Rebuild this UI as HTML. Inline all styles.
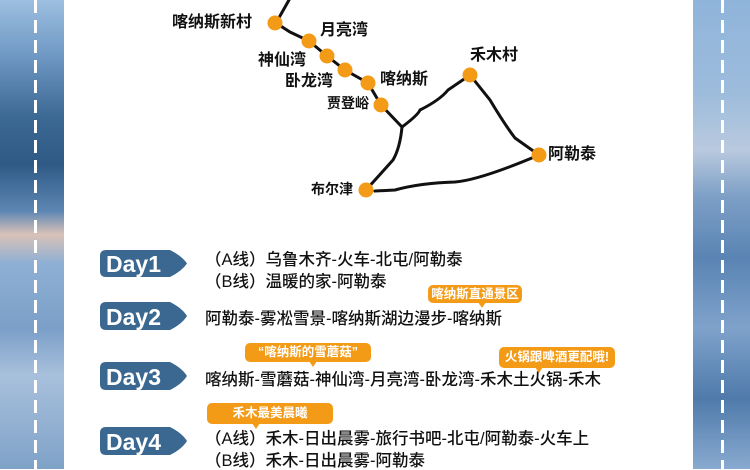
<!DOCTYPE html>
<html><head><meta charset="utf-8"><style>
html,body{margin:0;padding:0}
body{width:750px;height:469px;position:relative;overflow:hidden;font-family:"Liberation Sans","Noto Sans CJK SC",sans-serif;background:#fff}
.bg{position:absolute;top:0;height:469px}
.l{left:0;width:64px;background:linear-gradient(180deg,#9dbfe0 0%,#6f98c4 12%,#3c6894 25%,#2f5a86 35%,#5d86b3 45%,#d9c2b8 50%,#8fb0d4 56%,#7b9fc8 70%,#a8c0dc 80%,#7fa2c8 100%)}
.r{left:693px;width:57px;background:linear-gradient(180deg,#8fb4da 0%,#9dbcdc 20%,#b9c9de 32%,#7d9fc6 42%,#5a84b3 55%,#7fa2cb 70%,#4f7aaa 85%,#89aad0 100%)}
.dash{position:absolute;top:0;width:3px;height:469px;background:repeating-linear-gradient(180deg,#fff 0 13px,transparent 13px 20px)}
.t{position:absolute;font-size:16.5px;font-weight:500;color:#111;white-space:nowrap;line-height:1}
.lbl{position:absolute;font-size:16px;font-weight:bold;color:#111;white-space:nowrap;line-height:1}
.b{position:absolute;background:#f39a17;color:#fff;font-size:12.5px;font-weight:bold;border-radius:5px;text-align:center;white-space:nowrap}
.b i{position:absolute;bottom:-5px;width:0;height:0;border-left:4px solid transparent;border-right:4px solid transparent;border-top:6px solid #f39a17}
</style></head><body>
<div class="bg l"></div><div class="bg r"></div>
<div class="dash" style="left:34px"></div><div class="dash" style="left:721px"></div>
<svg width="750" height="469" style="position:absolute;left:0;top:0">
<g fill="none" stroke="#111" stroke-width="3" stroke-linecap="round">
<path d="M289 0 L276 23 L290 32 L309 41 L327 56 L345 70 L368 83 L381 105 L402 127 Q418 115 420 110 Q440 100 448 90 L470 75 L490 100 Q505 125 515 138 L539 155 Q480 180 455 182 Q420 183 395 190 L375 191"/>
<path d="M402 127 Q400 148 393 160 L366 190"/>
</g>
<g fill="#f39a17">
<circle cx="275" cy="23" r="7.5"/><circle cx="309" cy="41" r="7.5"/><circle cx="327" cy="56" r="7.5"/>
<circle cx="345" cy="70" r="7.5"/><circle cx="368" cy="83" r="7.5"/><circle cx="381" cy="105" r="7.5"/>
<circle cx="470" cy="75" r="7.5"/><circle cx="539" cy="155" r="7.5"/><circle cx="366" cy="190" r="7.5"/>
</g>
<g fill="#3a6891">
<path d="M106 250 H170 Q182 256 187 263.5 Q182 271 170 277 H106 Q100 277 100 271 V256 Q100 250 106 250Z"/>
<path d="M106 302 H170 Q182 308 187 316 Q182 324 170 330 H106 Q100 330 100 324 V308 Q100 302 106 302Z"/>
<path d="M106 362 H170 Q182 368 187 376 Q182 384 170 390 H106 Q100 390 100 384 V368 Q100 362 106 362Z"/>
<path d="M106 427 H170 Q182 433 187 441 Q182 449 170 455 H106 Q100 455 100 449 V433 Q100 427 106 427Z"/>
</g>
<g fill="#fff" font-family="Liberation Sans,sans-serif" font-weight="bold" font-size="23">
<text x="106" y="272">Day1</text><text x="106" y="325">Day2</text>
<text x="106" y="385">Day3</text><text x="106" y="450">Day4</text>
</g>
</svg>
<div class="lbl" style="left:172px;top:15px">喀纳斯新村</div>
<div class="lbl" style="left:320px;top:23px">月亮湾</div>
<div class="lbl" style="left:258px;top:53px">神仙湾</div>
<div class="lbl" style="left:285px;top:74px">卧龙湾</div>
<div class="lbl" style="left:380px;top:72px">喀纳斯</div>
<div class="lbl" style="left:327px;top:96px;font-size:14px">贾登峪</div>
<div class="lbl" style="left:470px;top:48px">禾木村</div>
<div class="lbl" style="left:548px;top:147px">阿勒泰</div>
<div class="lbl" style="left:311px;top:182px;font-size:14px">布尔津</div>
<div class="t" style="left:205px;top:252px">（A线）乌鲁木齐-火车-北屯/阿勒泰</div>
<div class="t" style="left:205px;top:274px">（B线）温暖的家-阿勒泰</div>
<div class="t" style="left:205px;top:311px">阿勒泰-雾凇雪景-喀纳斯湖边漫步-喀纳斯</div>
<div class="t" style="left:205px;top:372px">喀纳斯-雪蘑菇-神仙湾-月亮湾-卧龙湾-禾木土火锅-禾木</div>
<div class="t" style="left:205px;top:431px">（A线）禾木-日出晨雾-旅行书吧-北屯/阿勒泰-火车上</div>
<div class="t" style="left:205px;top:453px">（B线）禾木-日出晨雾-阿勒泰</div>
<div class="b" style="left:428px;top:285px;width:94px;height:18px;line-height:18px">喀纳斯直通景区<i style="left:50px"></i></div>
<div class="b" style="left:245px;top:343px;width:126px;height:19px;line-height:19px">“喀纳斯的雪蘑菇”<i style="left:64px"></i></div>
<div class="b" style="left:499px;top:347px;width:116px;height:21px;line-height:21px">火锅跟啤酒更配哦!<i style="left:36px"></i></div>
<div class="b" style="left:207px;top:403px;width:126px;height:21px;line-height:21px">禾木最美晨曦<i style="left:45px"></i></div>
</body></html>
